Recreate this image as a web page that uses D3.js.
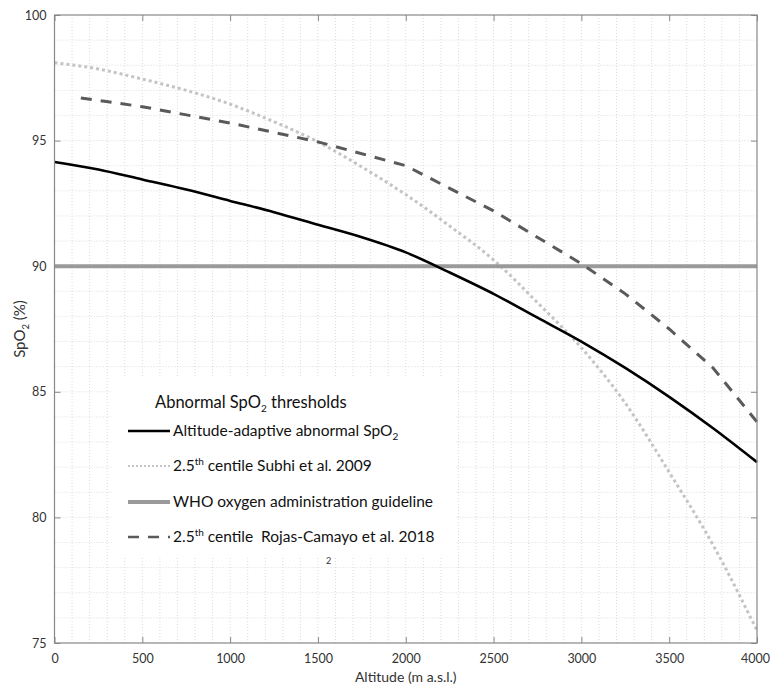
<!DOCTYPE html>
<html>
<head>
<meta charset="utf-8">
<script src="https://cdn.jsdelivr.net/npm/d3@7"></script>
<style>
  body { margin: 0; background: #fff; }
  svg { font-family: Lato, "Open Sans", sans-serif; }
  .tick text { fill: #333; font-size: 12.5px; }
</style>
</head>
<body>
<svg id="chart" width="770" height="686"></svg>
<script>
// altitude in m a.s.l., SpO2 in %
const adaptiveAlt = [0, 250, 500, 750, 1000, 1250, 1500, 1750, 2000, 2250, 2500, 2750, 3000, 3250, 3500, 3750, 4000]
const adaptiveSpO2 = [94.15, 93.85, 93.45, 93.05, 92.6, 92.15, 91.65, 91.15, 90.55, 89.75, 88.9, 87.95, 87.0, 85.95, 84.8, 83.55, 82.2]

const subhiAlt = [0, 250, 500, 750, 1000, 1250, 1500, 1750, 2000, 2250, 2500, 2750, 3000, 3250, 3500, 3750, 4000]
const subhiSpO2 = [98.1, 97.85, 97.45, 97.0, 96.45, 95.75, 94.95, 93.95, 92.85, 91.6, 90.25, 88.55, 86.75, 84.55, 81.8, 78.9, 75.5]

const whoAlt = [0, 4000]
const whoSpO2 = [90, 90]

const rojasAlt = [150, 500, 1000, 1500, 2000, 2500, 3000, 3250, 3500, 3750, 4000]
const rojasSpO2 = [96.7, 96.35, 95.7, 94.95, 94.0, 92.2, 90.1, 88.9, 87.5, 85.95, 83.8]

const xTicks = [0, 500, 1000, 1500, 2000, 2500, 3000, 3500, 4000]
const yTicks = [75, 80, 85, 90, 95, 100]

const svg = d3.select("#chart")
const margin = { top: 15, right: 13, bottom: 43, left: 54.5 }
const width = 770 - margin.left - margin.right
const height = 686 - margin.top - margin.bottom
const g = svg.append("g").attr("transform", `translate(${margin.left},${margin.top})`)

const x = d3.scaleLinear().domain([0, 4000]).range([0, width])
const y = d3.scaleLinear().domain([75, 100]).range([height, 0])

// dotted minor grid
g.append("g").selectAll("line")
  .data(d3.range(100, 4000, 100))
  .join("line")
  .attr("x1", d => x(d)).attr("x2", d => x(d))
  .attr("y1", 0).attr("y2", height)
  .attr("stroke", "#dadada").attr("stroke-width", 1).attr("stroke-dasharray", "1,2")
g.append("g").selectAll("line")
  .data(d3.range(76, 100, 1))
  .join("line")
  .attr("y1", d => y(d)).attr("y2", d => y(d))
  .attr("x1", 0).attr("x2", width)
  .attr("stroke", "#dadada").attr("stroke-width", 1).attr("stroke-dasharray", "1,2")

// axes with inward ticks on all four sides
function styleAxis(sel) {
  sel.select(".domain").remove()
  sel.selectAll(".tick line").attr("stroke", "#888")
}
const xAxis = g.append("g").attr("transform", `translate(0,${height})`)
  .call(d3.axisBottom(x).tickValues(xTicks).tickSize(-6).tickPadding(11).tickFormat(d3.format("d")))
  .call(styleAxis)
xAxis.selectAll(".tick text").filter(d => d === 4000).attr("dx", -2)
g.append("g")
  .call(d3.axisTop(x).tickValues(xTicks).tickSize(-6).tickFormat(""))
  .call(styleAxis)
g.append("g")
  .call(d3.axisLeft(y).tickValues(yTicks).tickSize(-6).tickPadding(8))
  .call(styleAxis)
g.append("g").attr("transform", `translate(${width},0)`)
  .call(d3.axisRight(y).tickValues(yTicks).tickSize(-6).tickFormat(""))
  .call(styleAxis)
g.selectAll(".tick text").attr("font-family", "Lato, sans-serif")

const smooth = d3.line().curve(d3.curveMonotoneX).x(d => x(d[0])).y(d => y(d[1]))
const line = d3.line().x(d => x(d[0])).y(d => y(d[1]))
const zip = (a, b) => a.map((v, i) => [v, b[i]])

g.append("path").datum(zip(subhiAlt, subhiSpO2)).attr("d", smooth)
  .attr("fill", "none").attr("stroke", "#c4c4c4").attr("stroke-width", 3).attr("stroke-dasharray", "3,3")
g.append("path").datum(zip(whoAlt, whoSpO2)).attr("d", line)
  .attr("fill", "none").attr("stroke", "#9a9a9a").attr("stroke-width", 4)
g.append("path").datum(zip(rojasAlt, rojasSpO2)).attr("d", line)
  .attr("fill", "none").attr("stroke", "#5a5a5a").attr("stroke-width", 3).attr("stroke-dasharray", "11,9")
g.append("path").datum(zip(adaptiveAlt, adaptiveSpO2)).attr("d", smooth)
  .attr("fill", "none").attr("stroke", "#000").attr("stroke-width", 2.6)

// frame
g.append("rect").attr("width", width).attr("height", height)
  .attr("fill", "none").attr("stroke", "#888").attr("stroke-width", 1.2)

// legend
const lg = svg.append("g")
lg.append("rect").attr("x", 112).attr("y", 378).attr("width", 343).attr("height", 178).attr("fill", "#fff")
const title = lg.append("text").attr("x", 155).attr("y", 408).attr("font-size", 16.5).attr("fill", "#111")
title.append("tspan").text("Abnormal SpO")
title.append("tspan").text("2").attr("font-size", 10).attr("dy", 4)
title.append("tspan").text(" thresholds").attr("dy", -4)

const items = [
  { y: 431, stroke: "#000", w: 2.6, dash: null, label: [["Altitude-adaptive abnormal SpO"], ["2", "sub"]] },
  { y: 466, stroke: "#c4c4c4", w: 2, dash: "2,2", label: [["2.5"], ["th", "sup"], [" centile Subhi et al. 2009"]] },
  { y: 502, stroke: "#9a9a9a", w: 4, dash: null, label: [["WHO oxygen administration guideline"]] },
  { y: 537, stroke: "#5a5a5a", w: 2.6, dash: "11,9", label: [["2.5"], ["th", "sup"], [" centile  Rojas-Camayo et al. 2018"]] }
]
items.forEach(it => {
  lg.append("line").attr("x1", 128).attr("x2", 170).attr("y1", it.y).attr("y2", it.y)
    .attr("stroke", it.stroke).attr("stroke-width", it.w).attr("stroke-dasharray", it.dash)
  const t = lg.append("text").attr("x", 173).attr("y", it.y + 5).attr("font-size", 15.5).attr("fill", "#111")
    .style("white-space", "pre")
  let shift = 0
  it.label.forEach(([s, kind]) => {
    const ts = t.append("tspan").text(s)
    if (kind === "sub") { ts.attr("font-size", 10).attr("dy", 4 - shift); shift = 4 }
    else if (kind === "sup") { ts.attr("font-size", 10).attr("dy", -6 - shift); shift = -6 }
    else if (shift !== 0) { ts.attr("dy", -shift); shift = 0 }
  })
})
lg.append("text").attr("x", 326).attr("y", 564).attr("font-size", 9).attr("fill", "#333").text("2")

// axis labels
svg.append("text").attr("x", margin.left + width / 2).attr("y", 682).attr("text-anchor", "middle")
  .attr("font-size", 14).attr("fill", "#333").text("Altitude (m a.s.l.)")
const yl = svg.append("text").attr("transform", `translate(25,${margin.top + height / 2}) rotate(-90)`)
  .attr("text-anchor", "middle").attr("font-size", 15).attr("fill", "#333")
yl.append("tspan").text("SpO")
yl.append("tspan").text("2").attr("font-size", 9.5).attr("dy", 4)
yl.append("tspan").text(" (%)").attr("dy", -4)
</script>
</body>
</html>
